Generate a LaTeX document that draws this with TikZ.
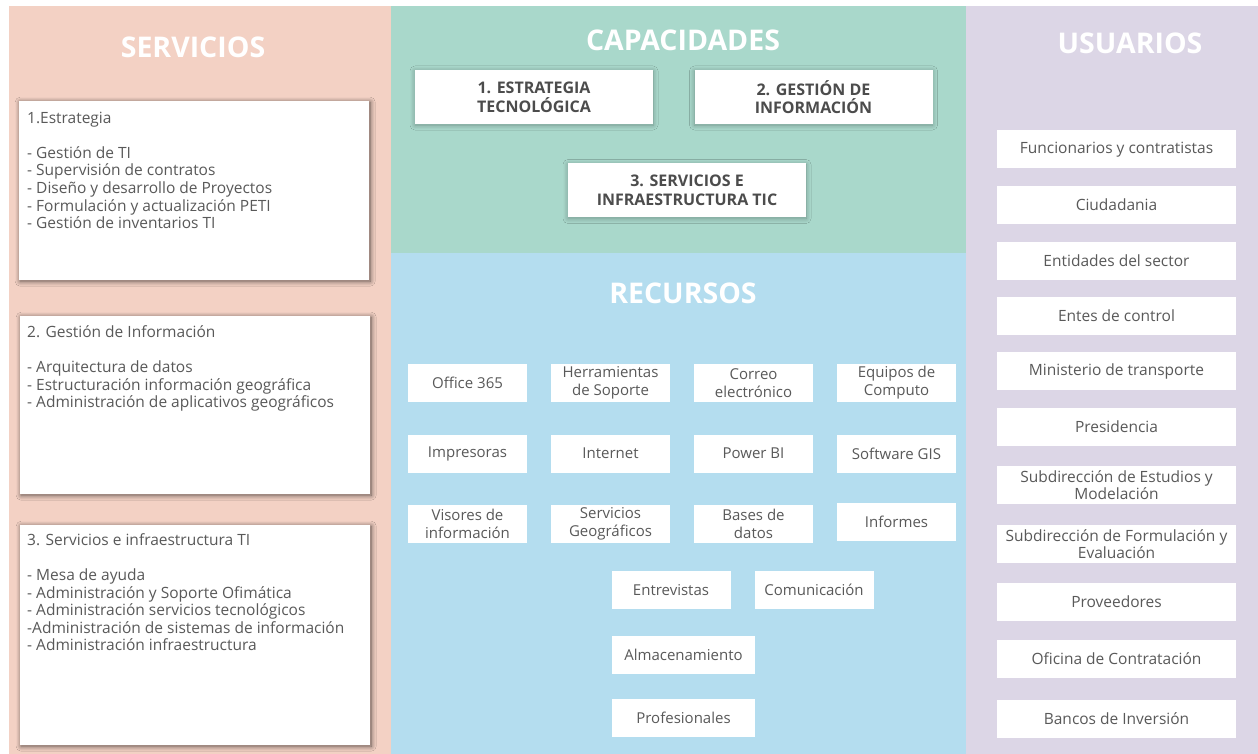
\documentclass[tikz,border=0pt]{standalone}
\usepackage{fontspec}
\setmainfont{Open Sans}
\usetikzlibrary{shadows.blur}

\definecolor{peach}{HTML}{F3D1C4}
\definecolor{mint}{HTML}{A9D8CB}
\definecolor{sky}{HTML}{B4DDEF}
\definecolor{lilac}{HTML}{DCD6E6}
\definecolor{txtgray}{HTML}{595959}

\begin{document}
\begin{tikzpicture}[x=1pt, y=-1pt,
  header/.style={text=white, font=\fontsize{28.5}{30}\selectfont\bfseries, inner sep=0pt},
  servbox/.style={fill=white, inner sep=0pt, anchor=north west,
    blur shadow={shadow xshift=1pt, shadow yshift=-1pt, shadow blur radius=5pt,
      shadow blur steps=12, shadow opacity=60}},
  servtext/.style={text=txtgray, align=left, inner sep=0pt, anchor=north west,
    font=\fontsize{15.5}{17.6}\selectfont},
  capbox/.style={fill=white, minimum width=238pt, minimum height=54pt, align=center,
    text=txtgray!85!black, font=\fontsize{16}{18.7}\selectfont\bfseries,
    blur shadow={shadow xshift=0pt, shadow yshift=-1pt, shadow blur radius=5pt,
      shadow blur steps=12, shadow opacity=30}},
  recbox/.style={fill=white, minimum width=119pt, minimum height=38pt, inner sep=1pt,
    align=center, text=txtgray, font=\fontsize{15}{18}\selectfont},
  userbox/.style={fill=white, minimum width=239pt, minimum height=38pt, inner sep=1pt,
    align=center, text=txtgray, font=\fontsize{15.5}{16.7}\selectfont}]

\useasboundingbox (0,0) rectangle (1258,754);

% Panels
\fill[peach] (9,6) rectangle (391,754);
\fill[mint]  (391,6) rectangle (966,253);
\fill[sky]   (391,253) rectangle (966,754);
\fill[lilac] (966,6) rectangle (1258,754);

% Headers
\node[header] (servicios)   at (193,47)  {SERVICIOS};
\node[header] (capacidades) at (683,40)  {CAPACIDADES};
\node[header] (recursos)    at (683,293) {RECURSOS};
\node[header] (usuarios)    at (1130,43) {USUARIOS};

% Servicios
\node[servbox, minimum width=350pt, minimum height=179pt] (estrategia) at (19,101) {};
\node[servbox, minimum width=350pt, minimum height=178pt] (gestion)    at (20,316) {};
\node[servbox, minimum width=350pt, minimum height=220pt] (infra)      at (20,525) {};

\node[servtext] (estrategia-txt) at (27,111) {\rule{0pt}{12pt}1.Estrategia\\[17.6pt]
  - Gestión de TI\\
  - Supervisión de contratos\\
  - Diseño y desarrollo de Proyectos\\
  - Formulación y actualización PETI\\
  - Gestión de inventarios TI};
\node[servtext] (gestion-txt) at (27,325) {\rule{0pt}{12pt}2. Gestión de Información\\[17.6pt]
  - Arquitectura de datos\\
  - Estructuración información geográfica\\
  - Administración de aplicativos geográficos};
\node[servtext] (infra-txt) at (27,533) {\rule{0pt}{12pt}3. Servicios e infraestructura TI\\[17.6pt]
  - Mesa de ayuda\\
  - Administración y Soporte Ofimática\\
  - Administración servicios tecnológicos\\
  -Administración de sistemas de información\\
  - Administración infraestructura};

% Capacidades
\node[capbox] (cap-estrategia) at (534,97)    {1. ESTRATEGIA\\TECNOLÓGICA};
\node[capbox] (cap-gestion)    at (813.5,97)  {2. GESTIÓN DE\\INFORMACIÓN};
\node[capbox] (cap-servicios)  at (687,190.5) {3. SERVICIOS E\\INFRAESTRUCTURA TIC};

% Recursos
\node[recbox] (office)       at (467.5,383)   {Office 365};
\node[recbox] (herramientas) at (610.5,383)   {Herramientas\\de Soporte};
\node[recbox] (correo)       at (753.5,383)   {Correo\\electrónico};
\node[recbox] (equipos)      at (896.5,383)   {Equipos de\\Computo};
\node[recbox] (impresoras)   at (467.5,453.5) {Impresoras};
\node[recbox] (internet)     at (610.5,453.5) {Internet};
\node[recbox] (powerbi)      at (753.5,453.5) {Power BI};
\node[recbox] (gis)          at (896.5,453.5) {Software GIS};
\node[recbox] (visores)      at (467.5,523.5) {Visores de\\información};
\node[recbox] (geograficos)  at (610.5,523.5) {Servicios\\Geográficos};
\node[recbox] (bases)        at (753.5,523.5) {Bases de\\datos};
\node[recbox] (informes)     at (896.5,521.5) {Informes};
\node[recbox] (entrevistas)  at (671,590)     {Entrevistas};
\node[recbox] (comunicacion) at (814,590)     {Comunicación};
\node[recbox, minimum width=143pt] (almacenamiento) at (683.5,655)   {Almacenamiento};
\node[recbox, minimum width=143pt] (profesionales)  at (683.5,717.5) {Profesionales};

% Usuarios
\node[userbox] (funcionarios) at (1116.5,149.5) {Funcionarios y contratistas};
\node[userbox] (ciudadania)   at (1116.5,205)   {Ciudadania};
\node[userbox] (entidades)    at (1116.5,260.5) {Entidades del sector};
\node[userbox] (entes)        at (1116.5,316)   {Entes de control};
\node[userbox] (ministerio)   at (1116.5,371)   {Ministerio de transporte};
\node[userbox] (presidencia)  at (1116.5,426.5) {Presidencia};
\node[userbox] (estudios)     at (1116.5,485)   {Subdirección de Estudios y\\Modelación};
\node[userbox] (formulacion)  at (1116.5,544)   {Subdirección de Formulación y\\Evaluación};
\node[userbox] (proveedores)  at (1116.5,602)   {Proveedores};
\node[userbox] (oficina)      at (1116.5,659)   {Oficina de Contratación};
\node[userbox] (bancos)       at (1116.5,719)   {Bancos de Inversión};

\end{tikzpicture}
\end{document}
